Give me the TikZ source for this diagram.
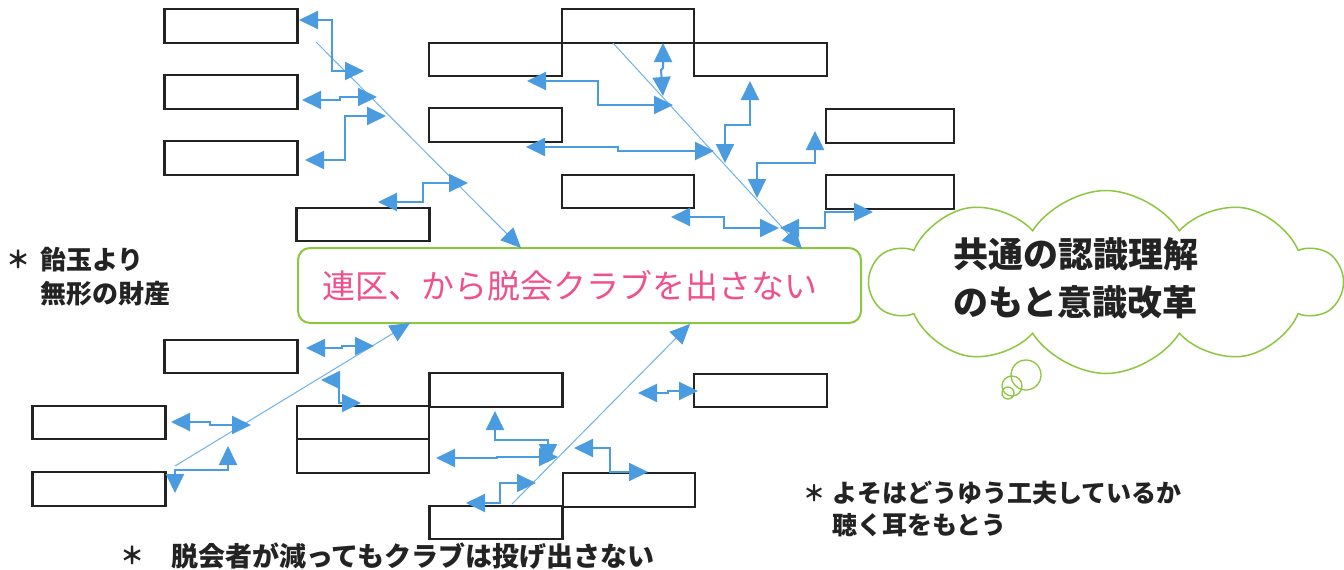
\documentclass[tikz,border=0pt]{standalone}
\usepackage{fontspec}
\setmainfont{Noto Sans CJK JP}
\usetikzlibrary{arrows.meta,shapes.symbols}
\definecolor{ablue}{RGB}{74,155,224}
\definecolor{dblue}{RGB}{110,178,236}
\definecolor{grn}{RGB}{141,198,63}
\definecolor{pnk}{RGB}{240,80,140}
\definecolor{ink}{RGB}{35,35,35}
\tikzset{
  box/.style={draw=ink, line width=2.2pt, minimum width=133pt, minimum height=34pt, inner sep=0pt, outer sep=0pt},
  elb/.style={draw=ablue, line width=2pt, arrows={Triangle[length=19pt,width=18pt]-Triangle[length=19pt,width=18pt]}},
  diag/.style={draw=dblue, line width=1pt, arrows={-Triangle[length=20pt,width=18pt,color=ablue]}},
  txt/.style={text=ink, inner sep=0pt, anchor=west},
}
\begin{document}
\begin{tikzpicture}[x=1pt,y=-1pt]
\useasboundingbox[fill=white] (0,0) rectangle (1344,570);
% boxes
\node[box] (b1) at (231,26) {};
\node[box] (b2) at (231,92) {};
\node[box] (b3) at (231,158) {};
\node[box, minimum height=33pt] (b4) at (363,224.5) {};
\node[box, minimum width=132pt] (b5) at (628,26) {};
\node[box, minimum height=33pt] (b6) at (495.5,59.5) {};
\node[box, minimum height=33pt] (b7) at (760.5,59.5) {};
\node[box] (b8) at (495.5,125) {};
\node[box, minimum width=132pt, minimum height=33pt] (b9) at (628,191.5) {};
\node[box, minimum width=128pt] (b10) at (890,126) {};
\node[box, minimum width=128pt] (b11) at (890,192) {};
\node[box, minimum height=33pt] (b12) at (231,356.5) {};
\node[box, minimum height=33pt] (b13) at (99,422.5) {};
\node[box] (b14) at (99,489) {};
\node[box, minimum width=132pt, minimum height=33pt] (b15) at (363,422.5) {};
\node[box, minimum width=132pt] (b16) at (363,456) {};
\node[box] (b17) at (496,390) {};
\node[box, minimum height=33pt] (b18) at (760.5,390.5) {};
\node[box, minimum width=132pt] (b19) at (629,490) {};
\node[box, minimum height=33pt] (b20) at (496,522.5) {};
% main box
\node[draw=grn, line width=2pt, rounded corners=12pt, minimum width=563pt, minimum height=75pt, inner sep=0pt] (main) at (579.5,285.5) {};
\node[text=pnk, font=\fontsize{33}{38}\selectfont, inner sep=0pt] (maintxt) at (570,286) {連区、から脱会クラブを出さない};
% cloud
\node[cloud, draw=grn, line width=1.5pt, cloud puffs=10, cloud puff arc=115, aspect=2.5, minimum width=470pt, minimum height=183pt, inner sep=0pt] (cl) at (1106,282) {};
\draw[grn, line width=1.3pt] (1026,375) circle[radius=15] (1012,386) circle[radius=10] (1008,393) circle[radius=6];
\node[txt, font=\bfseries\fontsize{35}{40}\selectfont] (ct1) at (953,254) {共通の認識理解};
\node[txt, font=\bfseries\fontsize{35}{40}\selectfont] (ct2) at (953,302) {のもと意識改革};
% texts
\node[text=ink, font=\bfseries\fontsize{24}{28}\selectfont, inner sep=0pt] (s1) at (18,259) {＊};
\node[txt, font=\bfseries\fontsize{26}{30}\selectfont] (t1) at (40,260) {飴玉より};
\node[txt, font=\bfseries\fontsize{26}{30}\selectfont] (t2) at (40,294) {無形の財産};
\node[text=ink, font=\bfseries\fontsize{24}{28}\selectfont, inner sep=0pt] (s2) at (132,555) {＊};
\node[txt, font=\bfseries\fontsize{27}{30}\selectfont] (t3) at (171,556) {脱会者が減ってもクラブは投げ出さない};
\node[text=ink, font=\bfseries\fontsize{22}{26}\selectfont, inner sep=0pt] (s3) at (814,493) {＊};
\node[txt, font=\bfseries\fontsize{25}{30}\selectfont] (t4) at (832,493) {よそはどうゆう工夫しているか};
\node[txt, font=\bfseries\fontsize{25}{30}\selectfont] (t5) at (832,525) {聴く耳をもとう};
% diagonal arrow coordinates
\coordinate (d1s) at (316,42);  \coordinate (d1e) at (521,248);
\coordinate (d2s) at (613,43);  \coordinate (d2e) at (802,249);
\coordinate (d3s) at (175,466); \coordinate (d3e) at (410,323);
\coordinate (d4s) at (512,504); \coordinate (d4e) at (690,324);
\draw[diag] (d1s) -- (d1e);
\draw[diag] (d2s) -- (d2e);
\draw[diag] (d3s) -- (d3e);
\draw[diag] (d4s) -- (d4e);
% elbow arrow ends
\coordinate (A1s) at (299,20);  \coordinate (A1e) at (364,71);
\coordinate (A2s) at (302,100); \coordinate (A2e) at (377,97);
\coordinate (A3s) at (305,160); \coordinate (A3e) at (386,116);
\coordinate (A4s) at (378,202); \coordinate (A4e) at (468,183);
\coordinate (B1s) at (663,43);  \coordinate (B1e) at (663,96);
\coordinate (B2s) at (527,81);  \coordinate (B2e) at (673,105);
\coordinate (B3s) at (526,147); \coordinate (B3e) at (714,151);
\coordinate (B4s) at (725,163); \coordinate (B4e) at (750,81);
\coordinate (B5s) at (757,198); \coordinate (B5e) at (815,131);
\coordinate (B6s) at (671,217); \coordinate (B6e) at (779,228);
\coordinate (B7s) at (780,228); \coordinate (B7e) at (873,212);
\coordinate (C1s) at (306,348); \coordinate (C1e) at (374,346);
\coordinate (C2s) at (321,380); \coordinate (C2e) at (361,403);
\coordinate (C3s) at (171,422); \coordinate (C3e) at (251,425);
\coordinate (C4s) at (175,493); \coordinate (C4e) at (228,446);
\coordinate (D1s) at (495,411); \coordinate (D1e) at (548,463);
\coordinate (D2s) at (436,458); \coordinate (D2e) at (558,457);
\coordinate (D3s) at (466,503); \coordinate (D3e) at (536,483);
\coordinate (D4s) at (574,448); \coordinate (D4e) at (648,472);
\coordinate (D5s) at (638,393); \coordinate (D5e) at (698,391);
\draw[elb] (A1s) -- (332,20) -- (332,71) -- (A1e);
\draw[elb] (A2s) -- (340,100) -- (340,97) -- (A2e);
\draw[elb] (A3s) -- (345,160) -- (345,116) -- (A3e);
\draw[elb] (A4s) -- (423,202) -- (423,183) -- (A4e);
\draw[elb] (B1s) -- (663,68) -- (661,70) -- (B1e);
\draw[elb] (B2s) -- (598,81) -- (598,105) -- (B2e);
\draw[elb] (B3s) -- (618,147) -- (618,151) -- (B3e);
\draw[elb] (B4s) -- (725,125) -- (750,125) -- (B4e);
\draw[elb] (B5s) -- (757,163) -- (815,163) -- (B5e);
\draw[elb] (B6s) -- (724,217) -- (724,228) -- (B6e);
\draw[elb] (B7s) -- (825,228) -- (825,212) -- (B7e);
\draw[elb] (C1s) -- (342,348) -- (342,346) -- (C1e);
\draw[elb] (C2s) -- (339,380) -- (339,403) -- (C2e);
\draw[elb] (C3s) -- (210,422) -- (210,425) -- (C3e);
\draw[elb] (C4s) -- (175,470) -- (228,470) -- (C4e);
\draw[elb] (D1s) -- (495,440) -- (548,440) -- (D1e);
\draw[elb] (D2s) -- (497,458) -- (497,457) -- (D2e);
\draw[elb] (D3s) -- (500,503) -- (500,483) -- (D3e);
\draw[elb] (D4s) -- (610,448) -- (610,472) -- (D4e);
\draw[elb] (D5s) -- (668,393) -- (668,391) -- (D5e);
\end{tikzpicture}
\end{document}
